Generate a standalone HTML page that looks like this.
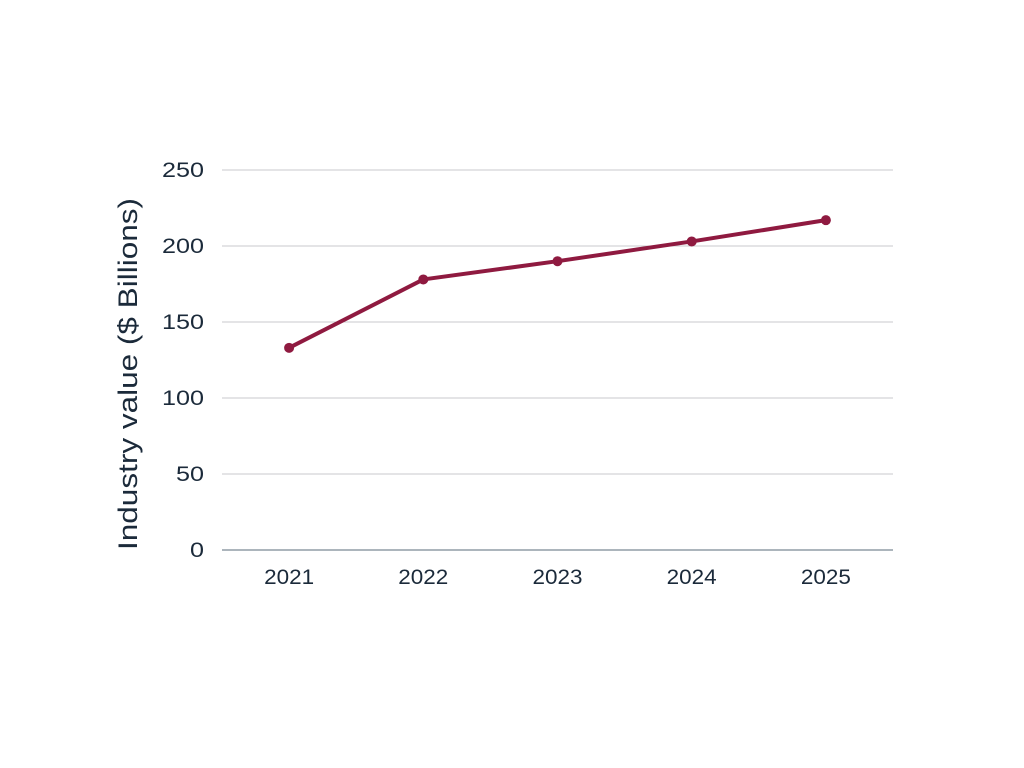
<!DOCTYPE html>
<html><head><meta charset="utf-8"><style>
body{margin:0;background:#fff;}
svg{display:block;font-family:"Liberation Sans",sans-serif;}
</style></head><body>
<svg id="chart" width="1024" height="768"></svg>
<script>
const categories=["2021","2022","2023","2024","2025"];
const values=[133,178,190,203,217];
const yTicks=[0,50,100,150,200,250];
const NS="http://www.w3.org/2000/svg";
const svg=document.getElementById('chart');
const L=222,R=893,T=170,B=550,yMax=250;
const bw=(R-L)/categories.length;
const x=i=>L+bw*(i+0.5);
const y=v=>B-(v/yMax)*(B-T);
function mk(t,a,p){const e=document.createElementNS(NS,t);for(const k in a)e.setAttribute(k,a[k]);(p||svg).appendChild(e);return e;}
yTicks.forEach(t=>{
  const g=mk('line',{x1:L,x2:R,y1:y(t),y2:y(t),stroke:t===0?'#5a6b7a':'#c8c8cc','stroke-width':1});
  
  
  const s=String(t);
  const tx=mk('text',{x:204,y:y(t)+7,'text-anchor':'end','font-size':21,fill:'#1b2a3a',textLength:s.length*14,lengthAdjust:'spacingAndGlyphs'});
  tx.textContent=s;
  
  
});
categories.forEach((c,i)=>{
  const tx=mk('text',{x:x(i),y:584,'text-anchor':'middle','font-size':21,fill:'#1b2a3a',textLength:50,lengthAdjust:'spacingAndGlyphs'});
  tx.textContent=c;
  
  
});
const yt=mk('text',{x:0,y:0,transform:'translate(137,374) rotate(-90)','text-anchor':'middle','font-size':27,fill:'#1b2a3a',textLength:352,lengthAdjust:'spacingAndGlyphs'});
yt.textContent='Industry value ($ Billions)';


const line=mk('polyline',{points:values.map((v,i)=>x(i)+','+y(v)).join(' '),fill:'none',stroke:'#8f1a40','stroke-width':4,'stroke-linejoin':'round'});


values.forEach((v,i)=>{
  const c=mk('circle',{cx:x(i),cy:y(v),r:5,fill:'#8f1a40'});
  
  
});
</script>
</body></html>
